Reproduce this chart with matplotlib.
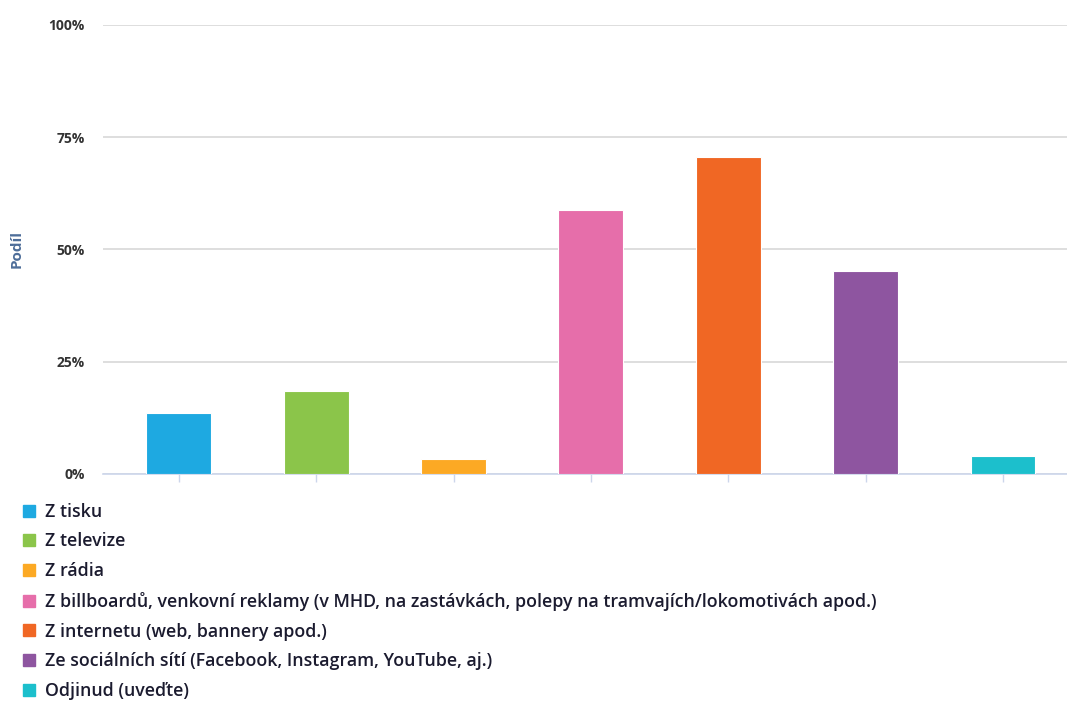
import numpy as np
import matplotlib
matplotlib.use("Agg")
import matplotlib.pyplot as plt
from matplotlib.lines import Line2D
from matplotlib.ticker import PercentFormatter

# data
categories = [
    "Z tisku",
    "Z televize",
    "Z rádia",
    "Z billboardů, venkovní reklamy (v MHD, na zastávkách, polepy na tramvajích/lokomotivách apod.)",
    "Z internetu (web, bannery apod.)",
    "Ze sociálních sítí (Facebook, Instagram, YouTube, aj.)",
    "Odjinud (uveďte)",
]
values = [13.5, 18.4, 3.4, 58.8, 70.6, 45.2, 4.1]
colors = ["#1ea9e1", "#8bc54a", "#fca924", "#e66eaa", "#f06724", "#8e55a0", "#1cbfcc"]
y_ticks = [0, 25, 50, 75, 100]

plt.rcParams["font.family"] = ["Open Sans", "DejaVu Sans"]

fig = plt.figure(figsize=(10.67, 7.02), dpi=100)
ax = fig.add_axes([0.0965, 0.3248, 0.9035, 0.6396])

x = np.arange(len(categories))
ax.bar(x, values, width=0.473, color=colors, edgecolor="white", linewidth=0.8, zorder=3)

ax.set_xlim(-0.553, 6.466)
ax.set_ylim(0, 100)
ax.set_yticks(y_ticks)
ax.yaxis.set_major_formatter(PercentFormatter(decimals=0))
ax.grid(axis="y", color="#d8d8d8", linewidth=1.2, zorder=0)
ax.set_xticks(x)
ax.set_xticklabels([])
ax.tick_params(axis="x", length=6, color="#ccd6eb", width=1)
ax.tick_params(axis="y", length=0, pad=13, labelsize=10, labelcolor="#333333")
for lbl in ax.get_yticklabels():
    lbl.set_fontweight("bold")

for side in ["top", "right", "left"]:
    ax.spines[side].set_visible(False)
ax.spines["bottom"].set_color("#ccd6eb")
ax.spines["bottom"].set_linewidth(1.2)

ax.set_ylabel("Podíl", color="#4d6d99", fontsize=11, fontweight="bold", labelpad=18)

handles = [Line2D([0], [0], marker="s", linestyle="none", markersize=9,
                  markerfacecolor=c, markeredgecolor=c) for c in colors]
fig.legend(handles, categories, loc="upper left", bbox_to_anchor=(0.012, 0.294),
           frameon=False, labelspacing=0.66, handletextpad=0.42,
           handlelength=1.0, borderaxespad=0, labelcolor="#1b1b2f",
           prop={"weight": "semibold", "size": 12.8})

fig.savefig("out.png", dpi=100)
